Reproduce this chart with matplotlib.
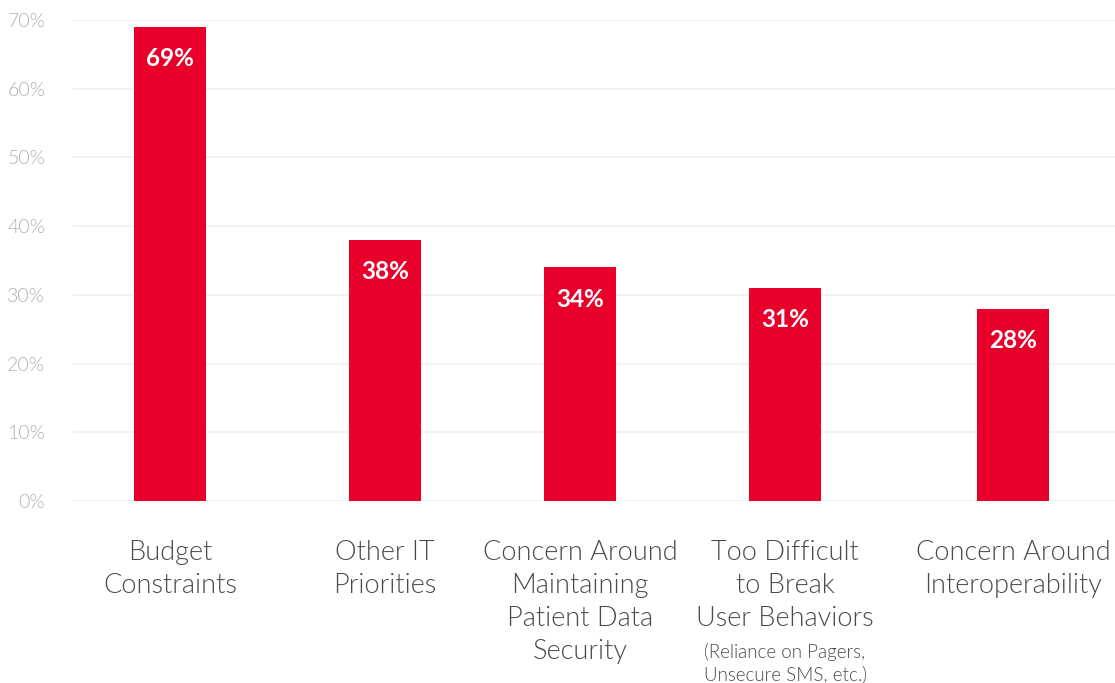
import matplotlib
matplotlib.use("Agg")
import matplotlib.pyplot as plt

# Data
categories = [
    "Budget\nConstraints",
    "Other IT\nPriorities",
    "Concern Around\nMaintaining\nPatient Data\nSecurity",
    "Too Difficult\nto Break\nUser Behaviors",
    "Concern Around\nInteroperability",
]
notes = ["", "", "", "(Reliance on Pagers,\nUnsecure SMS, etc.)", ""]
values = [69, 38, 34, 31, 28]
yticks = [0, 10, 20, 30, 40, 50, 60, 70]

# layout: bar centres in axis units (axis spans 0..1042)
x_pos = [97, 312, 507, 712, 940]
BAR_W = 72
RED = "#E8002A"
TEXT = "#4a4a4a"

plt.rcParams["font.family"] = ["Lato", "DejaVu Sans"]

fig = plt.figure(figsize=(11.15, 6.83), dpi=100)
ax = fig.add_axes([73 / 1115, 182 / 683, 1042 / 1115, 481 / 683])

ax.bar(x_pos, values, width=BAR_W, color=RED, zorder=3)
for x, v in zip(x_pos, values):
    ax.annotate(f"{v}%", (x, v), xytext=(0, -32), textcoords="offset pixels",
                ha="center", va="center", color="white", fontsize=17.5,
                fontweight="bold", zorder=4)

ax.set_xlim(0, 1042)
ax.set_ylim(0, 70)
ax.set_yticks(yticks)
ax.set_yticklabels([f"{t}%" for t in yticks])
ax.tick_params(axis="y", length=0, pad=20, labelsize=14, labelcolor="#b0b0b0")
for lab in ax.get_yticklabels():
    lab.set_fontweight(300)
ax.set_xticks([])
ax.grid(axis="y", color="#f0f0f0", linewidth=1.2, zorder=0)
for s in ax.spines.values():
    s.set_visible(False)

for x, cat, note in zip(x_pos, categories, notes):
    ax.annotate(cat, (x, 0), xytext=(0, -39), textcoords="offset pixels",
                ha="center", va="top", fontsize=19.5, color=TEXT,
                fontweight=300, linespacing=1.4)
    if note:
        nlines = cat.count("\n") + 1
        ax.annotate(note, (x, 0), xytext=(0, -39 - nlines * 32 - 7),
                    textcoords="offset pixels", ha="center", va="top",
                    fontsize=13.5, color=TEXT, fontweight=300,
                    linespacing=1.3)

fig.savefig("out.png", dpi=100)
